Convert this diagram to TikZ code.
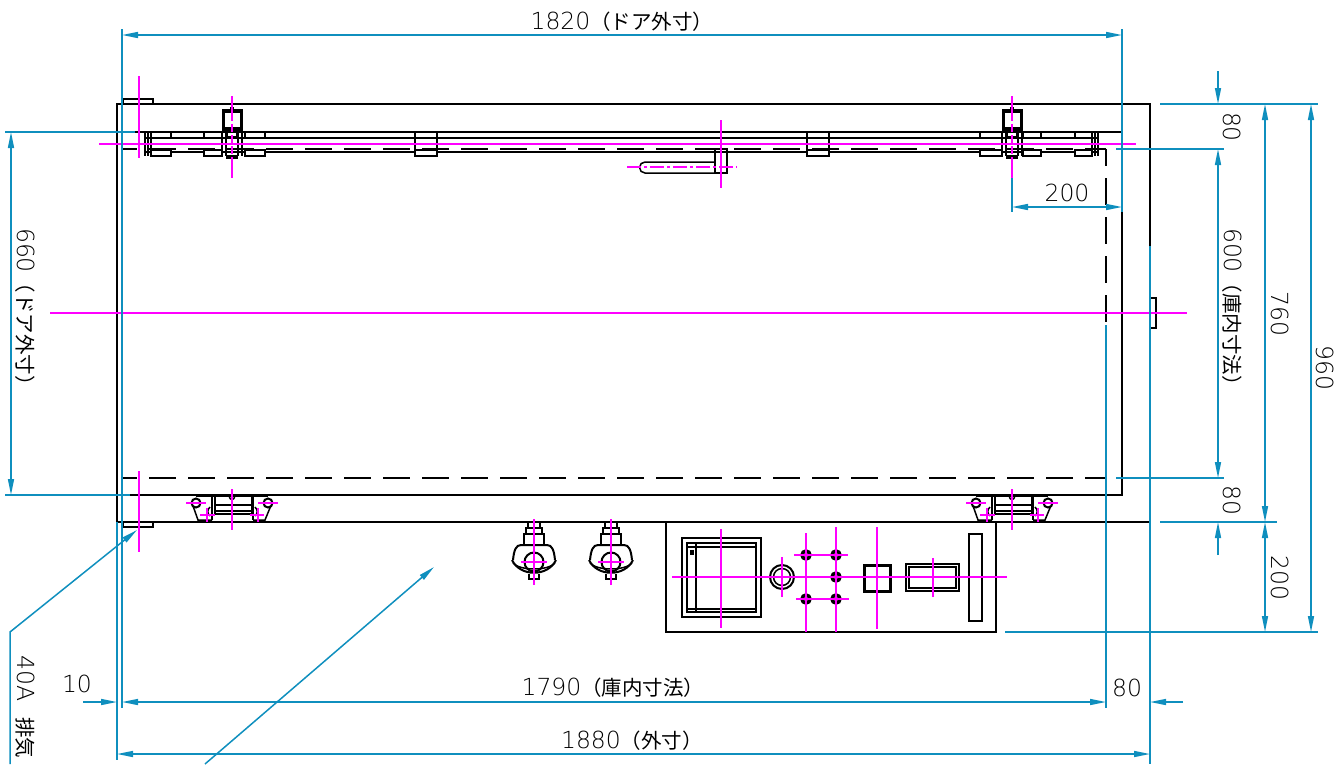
\documentclass[tikz,border=0pt]{standalone}
\usepackage{fontspec}
\setmainfont{DejaVu Sans ExtraLight}
\newfontfamily\cjk{Noto Sans CJK JP}
\usepackage{tikz}
\usetikzlibrary{arrows.meta}
\definecolor{dimblue}{HTML}{0F8FBE}
\definecolor{centerpink}{HTML}{FF00FF}
\newcommand{\jp}[1]{{\cjk\fontsize{20.5}{22}\selectfont #1}}

\begin{document}
\begin{tikzpicture}[x=1pt,y=-1pt]
	\tikzstyle{every node} = [inner sep = 0pt, font = \fontsize{23.5}{25}\selectfont]
	\tikzstyle{part} = [black, line width = 1.5pt]
	\tikzstyle{wide} = [black, line width = 2pt]
	\tikzstyle{center} = [centerpink, line width = 1.5pt]
	\tikzstyle{dim} = [dimblue, line width = 1.5pt]
	\tikzstyle{dimboth} = [dim, {Triangle[length=16pt,width=6pt]}-{Triangle[length=16pt,width=6pt]}]
	\tikzstyle{dimhead} = [dim, -{Triangle[length=16pt,width=6pt]}]
	\path[use as bounding box] (0,0) rectangle (1342,764);
	\clip (0,0) rectangle (1342,764);

	% cabinet and door
	\path[draw, wide] (117,522) -- (117,104) -- (1150,104) -- (1150,522) -- cycle;
	\path[draw, wide] (122,132) -- (1122,132) -- (1122,495) -- (122,495) -- cycle;
	\path[draw, part] (123,104) -- (123,99) -- (153,99) -- (153,104);
	\path[draw, part] (123,522) -- (123,527) -- (153,527) -- (153,522);
	\path[draw, part] (1150,298) -- (1156,298) -- (1156,328) -- (1150,328);
	\path[draw, part, dash pattern = on 27pt off 12pt, dash phase = 12pt] (122,149) -- (1106,149);
	\path[draw, part, dash pattern = on 27pt off 12pt, dash phase = 12pt] (122,478) -- (1106,478);
	\path[draw, part, dash pattern = on 27pt off 12pt, dash phase = 10pt] (1106,149) -- (1106,478);

	% rail
	\path[draw, part] (145,138) -- (1098,138);
	\path[draw, part] (145,152) -- (1098,152);
	\foreach \x in {145,148,151,1092,1095,1098} \path[draw, part] (\x,132) -- (\x,156);
	\foreach \a/\b in {151/171,204/222,245/265,415/437,807/829,980/1002,1023/1041,1075/1092}
		\path[draw, part, fill = white] (\a,132) rectangle (\b,138) (\a,150) rectangle (\b,156);
	\foreach \x in {415,437,807,829} \path[draw, part] (\x,132) -- (\x,156);

	% hinges
	\foreach \x in {232,1012} {
		\path[draw, part] (\x-10,132) -- (\x-10,156) (\x-6,132) -- (\x-6,156) (\x+6,132) -- (\x+6,156) (\x+10,132) -- (\x+10,156);
		\path[draw, black, line width = 3.5pt] (\x-8.5,111) rectangle (\x+9.5,129);
		\path[draw, part] (\x-5,130) rectangle (\x+5,137);
		\path[draw, part] (\x-5,156) rectangle (\x+5,158);
		\path[fill = black] (\x-2,107) rectangle (\x+2,110);
	}

	% handle
	\path[draw, part] (715,149) rectangle (727,173);
	\path[draw, part] (715,162) -- (645,162) arc (270:90:5.5) -- (715,173);

	% latches
	\foreach \x in {232,1012} {
		\path[draw, part] (\x-40,503) -- (\x-34,520) -- (\x-20,520) (\x+40,503) -- (\x+33,520) -- (\x+21,520);
		\path[draw, part] (\x-36,496) -- (\x+36,496);
		\path[draw, wide] (\x-20,497) -- (\x-20,520) (\x+21,497) -- (\x+21,520);
		\path[draw, wide] (\x-17,497) -- (\x-17,514) -- (\x+20,514) -- (\x+20,497);
		\path[draw, part] (\x-16,505) -- (\x+19,505) (\x-16,511) -- (\x+19,511);
		\path[draw, wide, fill = white] (\x-36,503) circle (4.5) (\x+36,503) circle (4.5);
		\path[draw, part] (\x,497) circle (2.5);
		\path[draw, part] (\x-22,507) .. controls (\x-25,510) and (\x-25,513) .. (\x-22,516);
		\path[draw, part] (\x+23,507) .. controls (\x+26,510) and (\x+26,513) .. (\x+23,516);
	}

	% cable glands
	\foreach \x in {534,611} {
		\path[draw, part] (\x-6,522) rectangle (\x+6,528);
		\path[draw, part] (\x-8,528) rectangle (\x+8,534);
		\path[draw, wide] (\x-10,534) rectangle (\x+10,545);
		\path[draw, wide] (\x-21,560) .. controls (\x-20,550) and (\x-18,545) .. (\x-13,545) -- (\x+13,545) .. controls (\x+18,545) and (\x+20,550) .. (\x+21,560);
		\path[draw, wide] (\x,562) circle (9.5);
		\path[draw, wide] (\x-22,560) .. controls (\x-14,577) and (\x+14,577) .. (\x+22,560);
		\path[draw, part] (\x-21,563) .. controls (\x-14,571) and (\x+14,571) .. (\x+21,563);
		\path[draw, part] (\x-5,574) -- (\x-5,579) -- (\x+5,579) -- (\x+5,574);
	}

	% control panel
	\path[draw, wide] (666,522) rectangle (996,632);
	\path[draw, wide] (682,538) rectangle (761,617);
	\path[draw, wide] (687,543) rectangle (756,612);
	\path[draw, part] (687,547) -- (756,547) (687,609) -- (756,609) (696,543) -- (696,612);
	\path[fill = black] (690,550) rectangle (694,555);
	\path[draw, wide] (782,577) circle (12);
	\path[draw, part] (782,577) circle (8.5);
	\foreach \x/\y in {806/555,836/555,836/577,806/599,836/599}
		\path[draw, black, line width = 3.5pt] (\x,\y) circle (4);
	\path[draw, black, line width = 3pt] (864,565) rectangle (890,591);
	\path[draw, part] (906,564) rectangle (959,591);
	\path[draw, wide] (909,567) rectangle (956,588);
	\path[draw, wide] (969,534) rectangle (982,621);

	% center lines
	\path[draw, center] (99,144) -- (1136,144);
	\path[draw, center] (50,313) -- (1187,313);
	\path[draw, center] (139,76) -- (139,158);
	\path[draw, center] (139,471) -- (139,552);
	\foreach \x in {232,1012} {
		\path[draw, center] (\x,96) -- (\x,113);
		\path[draw, center, dash pattern = on 8pt off 3pt] (\x,113) -- (\x,158);
		\path[draw, center] (\x,158) -- (\x,178);
		\path[draw, center] (\x,489) -- (\x,530);
		\path[draw, center] (\x-46,503) -- (\x-26,503);
		\path[draw, center] (\x+26,503) -- (\x+46,503);
		\path[draw, center] (\x-25,508) -- (\x-25,522) (\x-32,515) -- (\x-17,515);
		\path[draw, center] (\x+26,508) -- (\x+26,522) (\x+18,515) -- (\x+32,515);
	}
	\path[draw, center] (721,120) -- (721,188);
	\path[draw, center, dash pattern = on 14pt off 3pt on 3pt off 3pt] (627,167) -- (737,167);
	\foreach \x in {534,611} {
		\path[draw, center] (\x,519) -- (\x,585);
		\path[draw, center] (\x-13,562) -- (\x+13,562);
	}
	\path[draw, center] (672,577) -- (1007,577);
	\path[draw, center] (721,529) -- (721,628);
	\path[draw, center] (782,557) -- (782,597);
	\path[draw, center] (806,533) -- (806,632);
	\path[draw, center] (836,527) -- (836,632);
	\path[draw, center] (794,555) -- (848,555);
	\path[draw, center] (796,599) -- (849,599);
	\path[draw, center] (877,527) -- (877,629);
	\path[draw, center] (933,558) -- (933,597);

	% extension lines
	\path[draw, dim] (122,29) -- (122,708);
	\path[draw, dim] (1122,29) -- (1122,212);
	\path[draw, dim] (117,522) -- (117,760);
	\path[draw, dim] (1106,325) -- (1106,708);
	\path[draw, dim] (1150,246) -- (1150,764);
	\path[draw, dim] (1012,178) -- (1012,212);
	\path[draw, dim] (5,132) -- (135,132);
	\path[draw, dim] (5,495) -- (130,495);
	\path[draw, dim] (1116,149) -- (1224,149);
	\path[draw, dim] (1116,478) -- (1224,478);
	\path[draw, dim] (1160,104) -- (1318,104);
	\path[draw, dim] (1160,522) -- (1277,522);
	\path[draw, dim] (1005,632) -- (1318,632);

	% dimension lines
	\path[draw, dimboth] (122,35) -- (1122,35);
	\path[draw, dimboth] (11,132) -- (11,495);
	\path[draw, dimboth] (1012,207) -- (1122,207);
	\path[draw, dimboth] (1218,149) -- (1218,478);
	\path[draw, dimboth] (1265,104) -- (1265,522);
	\path[draw, dimboth] (1265,522) -- (1265,632);
	\path[draw, dimboth] (1311,104) -- (1311,632);
	\path[draw, dimboth] (122,702) -- (1106,702);
	\path[draw, dimboth] (117,754) -- (1150,754);
	\path[draw, dimhead] (1218,71) -- (1218,104);
	\path[draw, dimhead] (1218,555) -- (1218,522);
	\path[draw, dimhead] (83,702) -- (117,702);
	\path[draw, dimhead] (1183,702) -- (1150,702);

	% leaders
	\path[draw, dimhead] (10,764) -- (10,632) -- (137,530);
	\path[draw, dimhead] (205,764) -- (434,567);

	% labels
	\node (top) at (622,22) {1820\jp{（ドア外寸）}};
	\node[rotate = -90] (door) at (25,312) {660\jp{（ドア外寸）}};
	\node[rotate = -90] (inner) at (1232,312) {600\jp{（庫内寸法）}};
	\node[rotate = -90] (upper) at (1232,127) {80};
	\node[rotate = -90] (lower) at (1232,500) {80};
	\node[rotate = -90] (full) at (1280,314) {760};
	\node[rotate = -90] (panel) at (1280,578) {200};
	\node[rotate = -90] (total) at (1325,368) {960};
	\node (side) at (1067,193) {200};
	\node (room) at (613,688) {1790\jp{（庫内寸法）}};
	\node (width) at (632,741) {1880\jp{（外寸）}};
	\node (left) at (77,684) {10};
	\node (right) at (1127,688) {80};
	\node[rotate = -90, anchor = west] (vent) at (25,655) {40A\hspace{16pt}\jp{排気}};
\end{tikzpicture}
\end{document}
